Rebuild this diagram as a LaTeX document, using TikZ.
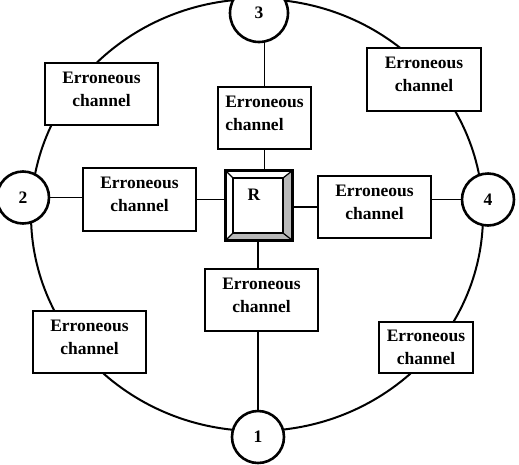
\documentclass[tikz,border=0pt]{standalone}
\usepackage{fontspec}
\setmainfont{Liberation Serif}
\usetikzlibrary{calc}
\pgfdeclarelayer{bg}
\pgfsetlayers{bg,main}
\begin{document}
\begin{tikzpicture}[x=1pt,y=-1pt,
  chan/.style={draw, line width=1.4pt, fill=white, align=center, inner sep=0pt, text depth=10pt, font=\bfseries\fontsize{17.5}{23}\selectfont},
  num/.style={circle, draw, line width=2.6pt, fill=white, inner sep=0pt, minimum size=52pt, font=\bfseries\fontsize{17.5}{21}\selectfont},
  conn/.style={line width=1.5pt},
  ring/.style={line width=2pt}]
\useasboundingbox (0,0) rectangle (519,464);
% numbered nodes
\node[num] (n1) at (258,437) {1};
\node[num] (n2) at (23,197.5) {2};
\node[num, minimum size=58pt] (n3) at (259,13) {3};
\node[num] (n4) at (488,199.5) {4};
% channel boxes
\node[chan, minimum width=113pt, minimum height=62pt] (tl) at (101.5,94) {Erroneous\\channel};
\node[chan, minimum width=93pt, minimum height=62pt, align=left] (tc) at (264.5,118) {Erroneous\\channel\hphantom{us}};
\node[chan, minimum width=114pt, minimum height=63pt] (tr) at (424,79.5) {Erroneous\\channel};
\node[chan, minimum width=113pt, minimum height=63pt] (lm) at (139.5,199.5) {Erroneous\\channel};
\node[chan, minimum width=113pt, minimum height=62pt] (rm) at (374.5,207) {Erroneous\\channel};
\node[chan, minimum width=113pt, minimum height=62pt] (bc) at (261.5,300) {Erroneous\\channel};
\node[chan, minimum width=113pt, minimum height=62pt] (bl) at (89.5,342) {Erroneous\\channel};
\node[chan, minimum width=94pt, minimum height=51pt, text depth=0pt] (br) at (426,347.5) {Erroneous\\channel};
% R bevel box
\node[fill=white, inner sep=0pt, minimum width=66pt, minimum height=69pt] (R) at (259,205.5) {};
\coordinate (iNW) at ($(R.north west)+(7,7)$);
\coordinate (iNE) at ($(R.north east)+(-9,7)$);
\coordinate (iSE) at ($(R.south east)+(-9,-7)$);
\coordinate (iSW) at ($(R.south west)+(7,-7)$);
\fill[gray!55] (R.north east) -- (R.south east) -- (iSE) -- (iNE) -- cycle;
\fill[gray!55] (R.south west) -- (R.south east) -- (iSE) -- (iSW) -- cycle;
\draw[line width=1.2pt] (R.north west) -- (iNW) (R.north east) -- (iNE) (R.south east) -- (iSE) (R.south west) -- (iSW);
\draw[line width=1.8pt] (iNW) rectangle (iSE);
\draw[line width=3pt] (R.north west) rectangle (R.south east);
\node[font=\bfseries\fontsize{17.5}{21}\selectfont, inner sep=0pt] (Rl) at (254,195) {R};
% ring and connectors behind
\begin{pgfonlayer}{bg}
\draw[ring] (257,215) ellipse [x radius=226pt, y radius=216pt];
\draw[conn] (tc.north) -- (tc.north |- n3.center);
\draw[conn] (tc.south) -- (tc.south |- R.center);
\draw[conn] (n1.center) -- (n1.center |- R.center);
\draw[conn] (n2.center) -- (n2.center -| lm.west);
\draw[conn] (lm.east) -- (lm.east -| R.center);
\draw[conn] (rm.west) -- (rm.west -| R.center);
\draw[conn] (n4.center) -- (n4.center -| rm.east);
\end{pgfonlayer}
\end{tikzpicture}
\end{document}
